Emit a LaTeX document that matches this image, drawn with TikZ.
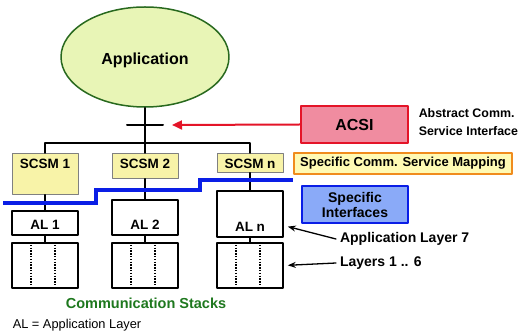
\documentclass[tikz,border=0pt]{standalone}
\usepackage{fontspec}
\setmainfont{Liberation Sans}
\usetikzlibrary{calc,arrows.meta,shapes.geometric}

\definecolor{appgreen}{RGB}{232,245,182}
\definecolor{appborder}{RGB}{40,105,30}
\definecolor{scsmyellow}{RGB}{248,243,168}
\definecolor{acsipink}{RGB}{240,140,160}
\definecolor{acsired}{RGB}{228,20,40}
\definecolor{ifblue}{RGB}{138,170,248}
\definecolor{busblue}{RGB}{10,30,230}
\definecolor{maporange}{RGB}{240,140,30}
\definecolor{mapyellow}{RGB}{255,250,180}
\definecolor{stackgreen}{RGB}{30,120,30}

\begin{document}
\begin{tikzpicture}[x=1pt,y=-1pt,line width=1.5pt,line cap=round,line join=round,
  scsm/.style={draw=gray,line width=0.8pt,fill=scsmyellow,minimum width=66pt,
    inner sep=0pt,text height=15pt,anchor=north,
    font=\fontsize{13.5}{16}\selectfont\bfseries},
  albox/.style={draw,line width=1.6pt,fill=white,minimum width=66pt,inner sep=0pt,
    text depth=5pt,anchor=north,font=\fontsize{13.5}{16}\selectfont\bfseries},
  stackbox/.style={draw,line width=1.6pt,minimum width=66pt,minimum height=45pt,
    inner sep=0pt,anchor=north},
  sidetext/.style={anchor=west,align=left,font=\fontsize{14}{17}\selectfont\bfseries},
  pointer/.style={-{Stealth[length=8pt,width=6pt]},line width=1.3pt}]
\useasboundingbox (0,0) rectangle (520,336);

% application and abstract interface
\node[ellipse,draw=appborder,fill=appgreen,line width=1.5pt,minimum width=168pt,
  minimum height=100pt,text height=16pt,text depth=0pt,
  font=\fontsize{16}{19}\selectfont\bfseries] (app) at (145,57) {Application};
\coordinate (acsipt) at (145,125);
\coordinate (bus) at (145,143);
\draw (app.south) -- (bus);
\draw[line width=2pt] ([xshift=-18pt]acsipt) -- ([xshift=18pt]acsipt);

\node[draw=acsired,fill=acsipink,line width=1.5pt,minimum width=107pt,minimum height=37pt,
  font=\fontsize{16}{19}\selectfont\bfseries] (acsi) at (354.5,124.5) {ACSI};
\draw[acsired,line width=2pt,-{Triangle[length=10pt,width=9pt]}] (acsi.west) -- ([xshift=27pt]acsipt);
\node[sidetext,inner sep=0pt,font=\fontsize{12.4}{18}\selectfont\bfseries] (acsitxt) at (418,122)
  {Abstract Comm.\\Service Interface};

% specific mappings
\node[scsm,text depth=26pt] (s1) at (45,153) {SCSM 1};
\node[scsm,text depth=10pt] (s2) at (145,153) {SCSM 2};
\node[scsm,text depth=4pt] (s3) at (250,153) {SCSM n};
\draw (s1.north) |- (bus) -| (s3.north);
\draw (bus) -- (s2.north);

\node[draw=maporange,fill=mapyellow,line width=1.5pt,minimum width=218pt,minimum height=21pt,
  inner sep=0pt,font=\fontsize{13}{16}\selectfont\bfseries] (scsmtxt) at (403,163.5)
  {Specific Comm. Service Mapping};

% application layers and stacks
\node[albox,text height=19pt] (al1) at (45,210) {AL 1};
\node[albox,text height=30pt] (al2) at (145,199) {AL 2};
\node[albox,text height=41pt] (aln) at (250,190) {AL n};
\node[stackbox] (st1) at (45,242) {};
\node[stackbox] (st2) at (145,242) {};
\node[stackbox] (st3) at (250,242) {};
\foreach \s in {st1,st2,st3}
  \foreach \f in {0.29,0.65}
    \draw[line width=1.5pt,line cap=butt,dash pattern=on 1.5pt off 1.3pt]
      ($(\s.north west)!\f!(\s.north east)$) -- ($(\s.south west)!\f!(\s.south east)$);
\draw (s1.south) -- (al1.north);
\draw (s2.south) -- (al2.north);
\draw (s3.south) -- (aln.north);
\draw (al1.south) -- (st1.north);
\draw (al2.south) -- (st2.north);
\draw (aln.south) -- (st3.north);

% specific interfaces
\draw[busblue,line width=3.5pt,line cap=butt,line join=miter]
  (3,203) -- (96,203) -- (96,190) -- (200,190) -- (200,180) -- (293,180);
\node[draw=busblue,fill=ifblue,line width=1.5pt,minimum width=106pt,minimum height=37pt,
  align=center,font=\fontsize{14}{15}\selectfont\bfseries] (iftxt) at (355,204.5)
  {Specific\\Interfaces};

\node[sidetext] (al7) at (336,239) {Application Layer 7};
\node[sidetext] (l16) at (336,263) {Layers 1 .. 6};
\draw[pointer] (al7.west) -- ($(aln.south east)+(4,-11)$);
\draw[pointer] (l16.west) -- ([xshift=4pt]st3.east);

\node[text=stackgreen,font=\fontsize{14.5}{17}\selectfont\bfseries] (comm) at (146,303)
  {Communication Stacks};
\node[anchor=west,inner sep=0pt,font=\fontsize{12.8}{15}\selectfont] (legend) at (12,325)
  {AL = Application Layer};
\end{tikzpicture}
\end{document}
